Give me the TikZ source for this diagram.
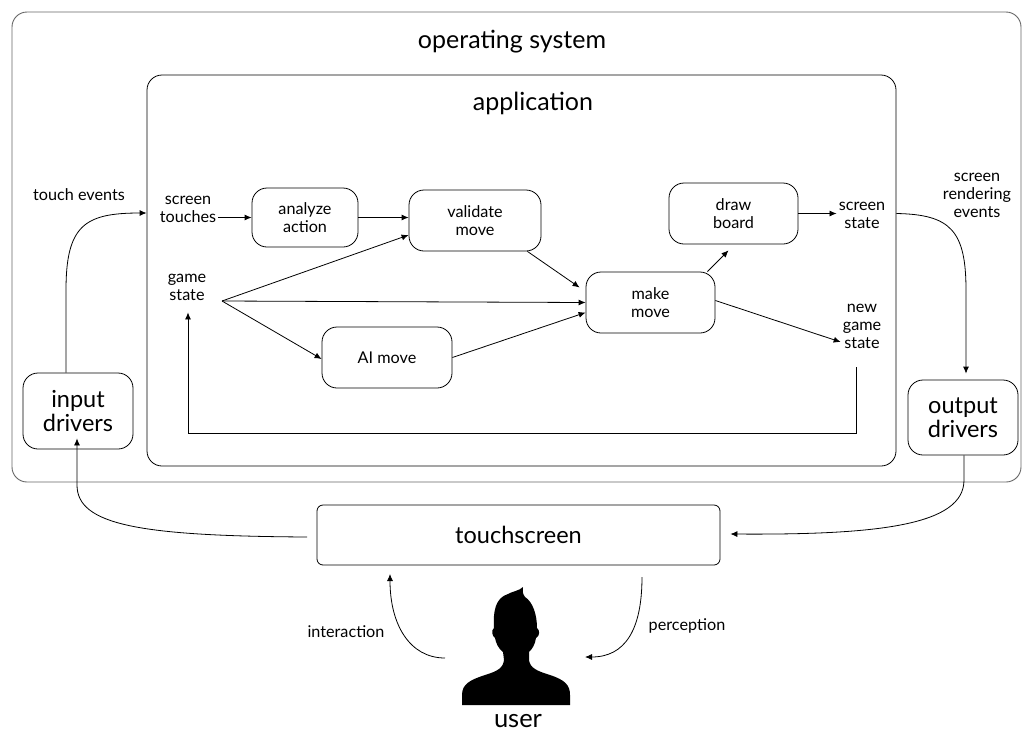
\documentclass[tikz,border=0pt]{standalone}
\usepackage{fontspec}
\setmainfont{Lato}
\usetikzlibrary{arrows.meta}
\tikzset{
  arr/.style={draw=black, line width=0.8pt, -{Latex[length=7pt,width=6pt]}},
  plain/.style={draw=black, line width=0.8pt},
  procbox/.style={draw=black, line width=0.8pt, rounded corners=15pt, align=center, inner sep=0pt, font=\fontsize{16.2}{18}\selectfont},
  bigbox/.style={draw=black, line width=0.8pt, rounded corners=15pt, align=center, inner sep=0pt, font=\fontsize{23.5}{24}\selectfont},
  lbl/.style={align=center, inner sep=2pt, font=\fontsize{16.2}{18}\selectfont},
  title/.style={inner sep=0pt, font=\fontsize{25}{28}\selectfont},
}
\begin{document}
\begin{tikzpicture}[x=1pt,y=-1pt]
\useasboundingbox (0,0) rectangle (1023,737);
% containers
\node[draw=black!60, line width=0.9pt, rounded corners=15pt, minimum width=1009pt, minimum height=470pt, inner sep=0pt] (os) at (516.5,247) {};
\node[title] (ostitle) at (512,42) {operating system};
\node[draw=black, line width=0.8pt, rounded corners=15pt, minimum width=749pt, minimum height=391pt, inner sep=0pt] (app) at (521.5,270.5) {};
\node[title] (apptitle) at (533,103) {application};
% boxes
\node[bigbox, minimum width=110pt, minimum height=76pt] (indrv) at (78,411) {input\\drivers};
\node[bigbox, minimum width=110pt, minimum height=75pt] (outdrv) at (963,417.5) {output\\drivers};
\node[bigbox, rounded corners=6pt, minimum width=403pt, minimum height=60pt] (touch) at (518.5,535) {touchscreen};
\node[procbox, minimum width=106pt, minimum height=59pt] (analyze) at (305,217.5) {analyze\\action};
\node[procbox, minimum width=132pt, minimum height=61pt] (validate) at (475,220.5) {validate\\move};
\node[procbox, minimum width=129pt, minimum height=61pt] (make) at (650.5,302.5) {make\\move};
\node[procbox, minimum width=129pt, minimum height=61pt] (drawb) at (733.5,213.5) {draw\\board};
\node[procbox, minimum width=130pt, minimum height=61pt] (ai) at (387,357.5) {AI move};
% labels
\node[lbl] (sctouch) at (188,209) {screen\\touches};
\node[lbl] (gamest) at (187,287) {game\\state};
\node[lbl] (scstate) at (862,215) {screen\\state};
\node[lbl] (newgame) at (862,326) {new\\game\\state};
\node[lbl] (touchev) at (79,195) {touch events};
\node[lbl] (scrrend) at (977,195) {screen\\rendering\\events};
\node[lbl] (interlbl) at (346,632) {interaction};
\node[lbl] (perclbl) at (687,626) {perception};
\node[title, font=\fontsize{25.5}{28}\selectfont] (user) at (518,721) {user};
% user silhouette
\fill[black] (462,705) -- (462,695) .. controls (462,684) and (470,680) .. (485,675)
  .. controls (498,671) and (503,668) .. (504,660) -- (503,652)
  .. controls (498,648) and (496,643) .. (495,638)
  .. controls (492,636) and (491,630) .. (494,628)
  .. controls (493,612) and (495,598) .. (508,594)
  .. controls (513,591) and (519,591) .. (523,587)
  .. controls (523,591) and (522,593) .. (525,597)
  .. controls (533,602) and (537,615) .. (537,628)
  .. controls (540,630) and (540,636) .. (536,638)
  .. controls (535,645) and (532,649) .. (529,652) -- (529,660)
  .. controls (530,668) and (537,671) .. (550,675)
  .. controls (565,680) and (570,685) .. (570,695) -- (570,705) -- cycle;
% coordinates
\coordinate (gs) at (222,301);
\coordinate (fbs) at (856,367);
\coordinate (fbc) at (188,433);
\coordinate (tsout) at (307,537);
\coordinate (intstart) at (445,658);
\coordinate (intend) at (390,574);
\coordinate (percstart) at (642,577);
\coordinate (percend) at (585,657);
% inner arrows
\draw[arr] (sctouch.east |- analyze.west) -- (analyze.west);
\draw[arr] (analyze.east) -- (analyze.east -| validate.west);
\draw[arr] (gs) -- ([yshift=-14.5pt]validate.west);
\draw[arr] (gs) -- (make.west);
\draw[arr] (gs) -- ([yshift=-1.5pt]ai.west);
\draw[arr] ([xshift=-14pt]validate.south east) -- ([xshift=-6pt,yshift=15pt]make.west);
\draw[arr] (ai.east) -- ([yshift=-10pt]make.west);
\draw[arr] ([xshift=-8pt]make.north east) -- ([xshift=-5pt,yshift=-6pt]drawb.south);
\draw[arr] (drawb.east) -- (drawb.east -| scstate.west);
\draw[arr] ([yshift=2pt]make.east) -- ([yshift=-16pt]newgame.west);
\draw[arr] (fbs) |- (fbc) -- ([yshift=-10pt]fbc |- gamest.south);
% outer arrows
\draw[arr] ([xshift=-12pt]indrv.north) -- (66,290) .. controls (66,225) and (85,213) .. (app.west |- 138,213);
\draw[arr] (app.east |- drawb.east) .. controls (950,214.5) and (966,230) .. (966,290) -- ([xshift=3pt,yshift=6pt]outdrv.north);
\draw[arr] ([xshift=1pt]outdrv.south) -- (964,480) .. controls (964,525) and (880,535) .. ([xshift=10pt,yshift=1pt]touch.east);
\draw[arr] (tsout) .. controls (140,536) and (77,525) .. (77,485) -- ([xshift=-1pt,yshift=11pt]indrv.south);
\draw[arr] (intstart) .. controls (410,658) and (390,625) .. (intend);
\draw[arr] (percstart) .. controls (642,630) and (625,657) .. (percend);
\end{tikzpicture}
\end{document}
